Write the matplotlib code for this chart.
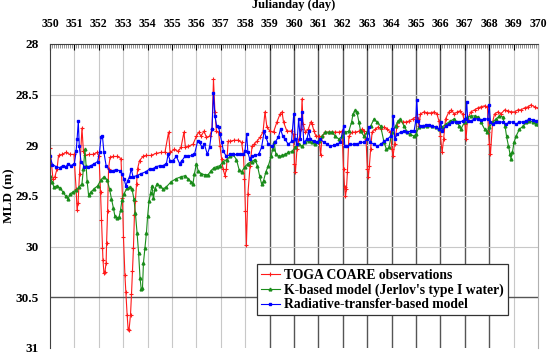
import matplotlib
matplotlib.use("Agg")
import matplotlib.pyplot as plt
from matplotlib.ticker import MultipleLocator

# === Data ===
obs_day = [350.00, 350.06, 350.12, 350.20, 350.29, 350.35, 350.49, 350.66, 350.82, 350.98,
           351.07, 351.11, 351.15, 351.21, 351.31, 351.37, 351.43, 351.60, 351.76, 351.93,
           352.01, 352.07, 352.11, 352.15, 352.17, 352.21, 352.25, 352.30, 352.32, 352.36,
           352.40, 352.46, 352.58, 352.75, 352.91, 352.97, 353.01, 353.07, 353.11, 353.16,
           353.20, 353.24, 353.30, 353.34, 353.38, 353.42, 353.46, 353.50, 353.55, 353.59,
           353.67, 353.81, 353.93, 354.14, 354.34, 354.55, 354.71, 354.86, 354.92, 355.10,
           355.25, 355.37, 355.49, 355.55, 355.66, 355.86, 356.00, 356.09, 356.19, 356.31,
           356.41, 356.54, 356.64, 356.70, 356.76, 356.82, 356.91, 356.97, 357.03, 357.09,
           357.17, 357.23, 357.30, 357.38, 357.54, 357.70, 357.85, 357.93, 357.97, 358.01,
           358.05, 358.11, 358.20, 358.28, 358.36, 358.48, 358.61, 358.73, 358.81, 358.89,
           359.02, 359.16, 359.30, 359.43, 359.51, 359.57, 359.71, 359.88, 359.98, 360.02,
           360.06, 360.12, 360.20, 360.29, 360.33, 360.37, 360.47, 360.59, 360.68, 360.74,
           360.82, 360.90, 361.02, 361.09, 361.15, 361.29, 361.43, 361.56, 361.70, 361.84,
           361.97, 362.03, 362.07, 362.11, 362.15, 362.19, 362.25, 362.38, 362.52, 362.66,
           362.79, 362.87, 362.95, 363.01, 363.05, 363.09, 363.14, 363.20, 363.34, 363.44,
           363.57, 363.69, 363.83, 363.95, 364.02, 364.06, 364.12, 364.22, 364.30, 364.45,
           364.59, 364.71, 364.86, 365.00, 365.08, 365.12, 365.18, 365.33, 365.47, 365.61,
           365.74, 365.86, 365.94, 366.00, 366.07, 366.13, 366.21, 366.35, 366.45, 366.56,
           366.70, 366.80, 366.91, 367.01, 367.05, 367.11, 367.25, 367.40, 367.54, 367.66,
           367.81, 367.93, 367.97, 368.01, 368.05, 368.14, 368.22, 368.36, 368.48, 368.63,
           368.77, 368.89, 369.04, 369.18, 369.30, 369.45, 369.59, 369.71, 369.86, 369.98]
obs_mld = [29.03, 29.18, 29.33, 29.31, 29.23, 29.10, 29.09, 29.07, 29.09, 29.09,
           29.43, 29.64, 29.57, 29.28, 28.83, 29.06, 29.10, 29.09, 29.09, 29.07,
           29.11, 29.46, 29.74, 30.01, 30.13, 30.26, 30.25, 30.16, 29.96, 29.65,
           29.23, 29.12, 29.11, 29.11, 29.13, 29.52, 29.90, 30.28, 30.45, 30.67,
           30.81, 30.82, 30.67, 30.47, 30.24, 30.01, 29.69, 29.55, 29.38, 29.23,
           29.15, 29.11, 29.10, 29.10, 29.08, 29.07, 29.07, 28.87, 29.07, 29.04,
           29.06, 29.02, 28.87, 29.02, 29.01, 28.99, 28.91, 28.87, 28.91, 28.86,
           28.92, 28.91, 28.84, 28.35, 28.67, 28.86, 28.87, 29.01, 29.13, 29.23,
           29.30, 29.23, 28.96, 28.96, 28.95, 28.95, 28.97, 29.10, 29.33, 29.65,
           29.98, 29.48, 29.20, 29.01, 28.99, 28.96, 28.92, 28.87, 28.67, 28.82,
           28.86, 28.87, 28.77, 28.69, 28.67, 28.77, 28.86, 28.86, 28.89, 29.18,
           29.26, 29.04, 28.94, 28.84, 28.54, 28.79, 28.87, 28.84, 28.77, 28.79,
           28.86, 28.91, 28.91, 29.10, 28.91, 28.87, 28.87, 28.87, 28.87, 28.87,
           28.86, 29.23, 29.41, 29.50, 29.43, 29.26, 28.91, 28.87, 28.87, 28.86,
           28.84, 28.86, 28.94, 29.23, 29.31, 29.20, 29.04, 28.87, 28.84, 28.82,
           28.84, 28.82, 28.84, 28.87, 29.04, 29.11, 28.99, 28.81, 28.76, 28.77,
           28.77, 28.76, 28.74, 28.72, 28.74, 28.81, 28.69, 28.67, 28.68, 28.68,
           28.67, 28.69, 28.76, 28.91, 29.07, 28.94, 28.74, 28.67, 28.65, 28.69,
           28.67, 28.66, 28.69, 28.79, 28.94, 28.74, 28.67, 28.65, 28.63, 28.62,
           28.61, 28.62, 28.87, 28.99, 29.09, 28.77, 28.69, 28.67, 28.69, 28.65,
           28.66, 28.67, 28.67, 28.65, 28.65, 28.63, 28.62, 28.60, 28.62, 28.63]

kmod_day = [350.00, 350.08, 350.16, 350.29, 350.41, 350.53, 350.64, 350.74, 350.82, 350.94,
            351.07, 351.19, 351.31, 351.37, 351.43, 351.48, 351.52, 351.58, 351.68, 351.80,
            351.95, 352.09, 352.21, 352.34, 352.44, 352.52, 352.60, 352.66, 352.75, 352.83,
            352.89, 352.95, 353.03, 353.16, 353.28, 353.36, 353.44, 353.50, 353.57, 353.63,
            353.69, 353.74, 353.79, 353.83, 353.89, 353.95, 354.00, 354.06, 354.12, 354.18,
            354.24, 354.30, 354.39, 354.51, 354.63, 354.77, 354.96, 355.16, 355.37, 355.53,
            355.66, 355.78, 355.86, 355.92, 356.00, 356.07, 356.19, 356.35, 356.48, 356.60,
            356.72, 356.84, 356.97, 357.09, 357.25, 357.38, 357.50, 357.64, 357.75, 357.85,
            357.99, 358.11, 358.26, 358.40, 358.50, 358.59, 358.67, 358.75, 358.85, 358.95,
            359.06, 359.12, 359.18, 359.26, 359.39, 359.51, 359.63, 359.77, 359.92, 360.06,
            360.20, 360.33, 360.47, 360.61, 360.74, 360.88, 361.02, 361.15, 361.29, 361.43,
            361.56, 361.70, 361.84, 361.97, 362.11, 362.25, 362.36, 362.42, 362.52, 362.58,
            362.66, 362.73, 362.87, 362.99, 363.14, 363.28, 363.40, 363.55, 363.69, 363.79,
            363.89, 364.02, 364.16, 364.26, 364.36, 364.51, 364.65, 364.77, 364.92, 365.00,
            365.12, 365.27, 365.45, 365.66, 365.82, 365.94, 366.07, 366.23, 366.41, 366.56,
            366.68, 366.78, 366.84, 366.99, 367.11, 367.25, 367.40, 367.54, 367.66, 367.81,
            367.91, 368.01, 368.14, 368.28, 368.42, 368.55, 368.65, 368.71, 368.79, 368.85,
            368.89, 368.95, 369.02, 369.10, 369.24, 369.39, 369.51, 369.65, 369.80, 369.92,
            370.00]
kmod_mld = [29.30, 29.36, 29.41, 29.40, 29.42, 29.46, 29.50, 29.53, 29.48, 29.46,
            29.44, 29.41, 29.38, 29.23, 29.04, 29.20, 29.35, 29.49, 29.46, 29.43,
            29.40, 29.34, 29.31, 29.34, 29.43, 29.53, 29.62, 29.70, 29.72, 29.71,
            29.64, 29.54, 29.48, 29.42, 29.41, 29.43, 29.53, 29.67, 29.87, 30.06,
            30.31, 30.42, 30.41, 30.16, 30.01, 29.87, 29.70, 29.55, 29.47, 29.40,
            29.52, 29.43, 29.38, 29.40, 29.43, 29.41, 29.36, 29.33, 29.31, 29.30,
            29.33, 29.36, 29.38, 29.28, 29.18, 29.25, 29.28, 29.29, 29.29, 29.25,
            29.22, 29.21, 29.20, 29.16, 29.14, 29.11, 29.09, 29.14, 29.24, 29.26,
            29.21, 29.18, 29.16, 29.14, 29.20, 29.30, 29.38, 29.35, 29.26, 29.20,
            29.11, 29.04, 28.97, 29.09, 29.11, 29.10, 29.09, 29.07, 29.06, 29.02,
            28.99, 29.01, 28.97, 28.96, 28.97, 28.99, 28.96, 28.91, 28.87, 28.87,
            28.87, 28.91, 28.94, 28.91, 28.87, 28.86, 28.77, 28.69, 28.65, 28.67,
            28.77, 28.86, 28.91, 28.87, 28.81, 28.74, 28.77, 28.81, 28.97, 29.04,
            29.02, 28.87, 28.81, 28.76, 28.74, 28.81, 28.87, 28.89, 28.91, 28.89,
            28.82, 28.81, 28.81, 28.81, 28.82, 28.84, 28.82, 28.79, 28.76, 28.74,
            28.77, 28.81, 28.84, 28.77, 28.72, 28.71, 28.71, 28.72, 28.77, 28.84,
            28.87, 28.82, 28.77, 28.74, 28.71, 28.72, 28.81, 28.91, 29.01, 29.09,
            29.13, 29.07, 28.97, 28.91, 28.84, 28.81, 28.77, 28.76, 28.77, 28.79,
            28.79]

rt_day = [350.00, 350.10, 350.25, 350.39, 350.53, 350.66, 350.74, 350.86, 351.00, 351.07,
          351.11, 351.16, 351.20, 351.27, 351.41, 351.56, 351.68, 351.82, 351.95, 352.03,
          352.09, 352.15, 352.21, 352.30, 352.44, 352.58, 352.70, 352.85, 352.95, 353.03,
          353.11, 353.18, 353.26, 353.33, 353.40, 353.55, 353.73, 353.93, 354.10, 354.22,
          354.36, 354.51, 354.63, 354.77, 354.84, 354.92, 355.04, 355.18, 355.31, 355.41,
          355.53, 355.66, 355.80, 355.92, 356.05, 356.13, 356.23, 356.33, 356.45, 356.54,
          356.64, 356.70, 356.76, 356.83, 356.91, 356.97, 357.04, 357.11, 357.23, 357.38,
          357.52, 357.66, 357.79, 357.93, 357.99, 358.06, 358.11, 358.18, 358.28, 358.40,
          358.55, 358.67, 358.78, 358.85, 358.95, 359.10, 359.22, 359.36, 359.45, 359.54,
          359.63, 359.77, 359.90, 359.99, 360.05, 360.12, 360.19, 360.26, 360.33, 360.40,
          360.53, 360.60, 360.67, 360.81, 360.94, 361.08, 361.22, 361.35, 361.49, 361.63,
          361.76, 361.90, 362.04, 362.08, 362.17, 362.31, 362.45, 362.58, 362.72, 362.86,
          362.99, 363.06, 363.13, 363.27, 363.41, 363.55, 363.69, 363.82, 363.96, 364.03,
          364.07, 364.13, 364.23, 364.37, 364.51, 364.64, 364.78, 364.92, 364.99, 365.03,
          365.08, 365.16, 365.29, 365.41, 365.53, 365.67, 365.81, 365.94, 366.01, 366.08,
          366.22, 366.35, 366.49, 366.63, 366.77, 366.91, 367.02, 367.08, 367.12, 367.25,
          367.39, 367.53, 367.66, 367.80, 367.94, 368.00, 368.05, 368.14, 368.28, 368.41,
          368.55, 368.69, 368.82, 368.96, 369.10, 369.23, 369.37, 369.51, 369.64, 369.78,
          369.92, 370.00]
rt_mld = [29.11, 29.19, 29.21, 29.22, 29.20, 29.21, 29.18, 29.20, 29.18, 29.06,
          28.94, 28.76, 29.01, 29.16, 29.21, 29.21, 29.20, 29.18, 29.16, 29.07,
          28.92, 28.91, 29.07, 29.20, 29.25, 29.25, 29.24, 29.25, 29.28, 29.33,
          29.40, 29.35, 29.31, 29.23, 29.31, 29.30, 29.28, 29.26, 29.23, 29.23,
          29.21, 29.20, 29.20, 29.18, 29.09, 29.15, 29.15, 29.11, 29.18, 29.15,
          29.11, 29.11, 29.10, 29.09, 28.96, 28.97, 29.02, 28.99, 29.09, 29.02,
          28.84, 28.48, 28.71, 28.81, 28.82, 28.89, 28.97, 29.06, 29.11, 29.09,
          29.09, 29.09, 29.09, 29.09, 29.06, 28.89, 29.07, 29.13, 29.11, 29.10,
          29.09, 29.02, 28.86, 28.92, 28.99, 29.01, 28.97, 28.92, 28.84, 28.91,
          28.94, 28.99, 28.96, 28.69, 28.94, 28.99, 28.74, 28.94, 28.67, 28.97,
          28.94, 28.86, 28.94, 28.96, 28.97, 28.94, 28.97, 28.99, 29.01, 29.00,
          28.99, 28.97, 28.81, 29.01, 29.01, 28.99, 28.99, 28.99, 28.97, 28.97,
          28.94, 28.82, 28.97, 28.99, 29.01, 28.99, 28.96, 28.94, 28.91, 28.84,
          28.71, 28.94, 28.89, 28.87, 28.86, 28.87, 28.86, 28.86, 28.76, 28.55,
          28.76, 28.81, 28.81, 28.80, 28.80, 28.81, 28.82, 28.84, 28.77, 28.86,
          28.81, 28.79, 28.77, 28.77, 28.77, 28.76, 28.74, 28.57, 28.76, 28.76,
          28.74, 28.74, 28.75, 28.74, 28.74, 28.60, 28.77, 28.79, 28.77, 28.77,
          28.77, 28.79, 28.77, 28.77, 28.79, 28.77, 28.77, 28.76, 28.74, 28.75,
          28.76, 28.76]

labels = ["TOGA COARE observations",
          "K-based model (Jerlov's type I water)",
          "Radiative-transfer-based model"]
day_ticks = list(range(350, 371))
mld_ticks = [28, 28.5, 29, 29.5, 30, 30.5, 31]
mld_ticklabels = ["28", "28.5", "29", "29.5", "30", "30.5", "31"]

# === Plot ===
plt.rcParams['font.family'] = ['Liberation Serif', 'DejaVu Serif']
plt.rcParams['font.weight'] = 'bold'

fig = plt.figure(figsize=(5.49, 3.54), dpi=100)
ax = fig.add_axes([50 / 549, 6 / 354, 488 / 549, 304 / 354])

# grid lines (some drawn darker, as in the original picture)
for d in day_ticks[1:-1]:
    dark = 359 <= d <= 368
    ax.axvline(d, color='#555555' if dark else '#c8c8c8', lw=1.0 if dark else 0.8, zorder=0)
for m in mld_ticks[1:-1]:
    dark = m == 30.5
    ax.axhline(m, color='#555555' if dark else '#c8c8c8', lw=1.0 if dark else 0.8, zorder=0)

ax.plot(obs_day, obs_mld, color='#ff1a1a', lw=0.8, marker='+', ms=3, mew=0.8, label=labels[0])
ax.plot(kmod_day, kmod_mld, color='#1a8c1a', lw=0.8, marker='^', ms=2, label=labels[1])
ax.plot(rt_day, rt_mld, color='#0000ff', lw=0.8, marker='s', ms=1.8, label=labels[2])

ax.set_xlim(350, 370)
ax.set_ylim(31, 28)
ax.xaxis.tick_top()
ax.xaxis.set_label_position('top')
ax.set_xticks(day_ticks)
ax.xaxis.set_minor_locator(MultipleLocator(1 / 12))
ax.tick_params(axis='x', which='major', direction='in', length=4, pad=10, labelsize=8.5)
ax.tick_params(axis='x', which='minor', direction='in', length=3, width=0.5, color='#666666')
ax.set_yticks(mld_ticks)
ax.set_yticklabels(mld_ticklabels)
ax.tick_params(axis='y', length=0, pad=8, labelsize=9.5)

ax.set_xlabel('Julianday (day)', fontsize=9, fontweight='bold', labelpad=7)
ax.set_ylabel('MLD (m)', fontsize=9.5, fontweight='bold')
ax.yaxis.set_label_coords(-0.071, 0.5)

for side in ['top', 'left']:
    ax.spines[side].set_color('#404040')
ax.spines['right'].set_color('#b0b0b0')
ax.spines['bottom'].set_visible(False)

leg = ax.legend(loc='lower left', bbox_to_anchor=(0.41, 0.085), fontsize=9.8,
                handlelength=1.4, handletextpad=0.3, labelspacing=0.12,
                borderpad=0.3, fancybox=False, framealpha=1, edgecolor='#333333')
leg.get_frame().set_linewidth(0.9)

fig.savefig('out.png', dpi=100)
